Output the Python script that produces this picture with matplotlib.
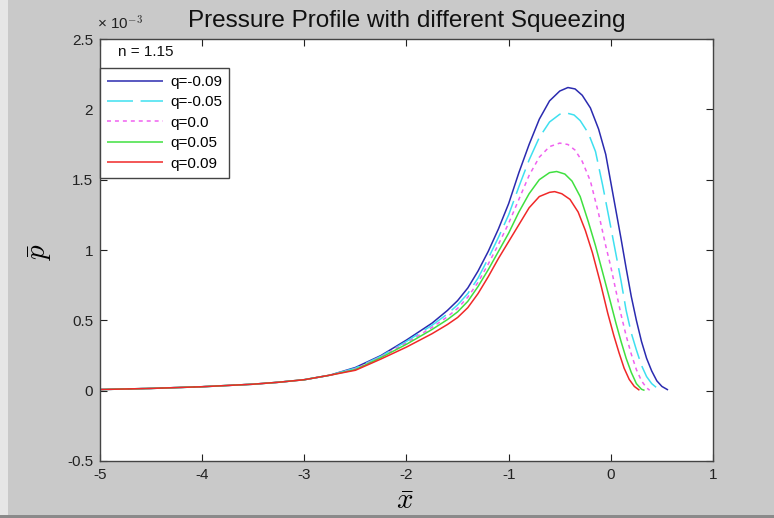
import matplotlib
matplotlib.use("Agg")
import matplotlib.pyplot as plt
from matplotlib.patches import Rectangle

# ---- data (pressure in units of 1e-3) ----
x_left = [-5.0, -4.5, -4.0, -3.5, -3.25, -3.0, -2.75]
p_left = [0.008, 0.016, 0.028, 0.046, 0.06, 0.078, 0.11]

x_q_m009 = [-2.5, -2.25, -2.0, -1.75, -1.6, -1.5, -1.4, -1.3, -1.2, -1.1, -1.0,
            -0.9, -0.8, -0.7, -0.6, -0.5, -0.42, -0.35, -0.28, -0.2, -0.12, -0.05,
            0.0, 0.05, 0.1, 0.15, 0.2, 0.25, 0.3, 0.35, 0.4, 0.45, 0.5, 0.56]
p_q_m009 = [0.165, 0.25, 0.36, 0.48, 0.57, 0.64, 0.73, 0.85, 0.99, 1.15, 1.33,
            1.55, 1.75, 1.93, 2.06, 2.13, 2.155, 2.145, 2.10, 2.01, 1.86, 1.68,
            1.48, 1.28, 1.08, 0.87, 0.67, 0.50, 0.35, 0.23, 0.14, 0.07, 0.03, 0.005]

x_q_m005 = [-2.5, -2.25, -2.0, -1.75, -1.6, -1.5, -1.4, -1.3, -1.2, -1.1, -1.0,
            -0.9, -0.8, -0.7, -0.6, -0.5, -0.44, -0.36, -0.3, -0.22, -0.15, -0.08,
            0.0, 0.05, 0.1, 0.15, 0.2, 0.25, 0.3, 0.35, 0.4, 0.45, 0.5]
p_q_m005 = [0.16, 0.245, 0.35, 0.465, 0.545, 0.61, 0.69, 0.80, 0.94, 1.09, 1.25,
            1.45, 1.64, 1.80, 1.91, 1.965, 1.975, 1.96, 1.92, 1.83, 1.70, 1.46,
            1.16, 0.97, 0.78, 0.57, 0.41, 0.29, 0.18, 0.10, 0.05, 0.02, 0.003]

x_q_000 = [-2.5, -2.25, -2.0, -1.75, -1.6, -1.5, -1.4, -1.3, -1.2, -1.1, -1.0,
           -0.9, -0.8, -0.7, -0.6, -0.5, -0.42, -0.35, -0.28, -0.2, -0.12, -0.05,
           0.0, 0.05, 0.1, 0.15, 0.2, 0.25, 0.3, 0.35, 0.38]
p_q_000 = [0.155, 0.24, 0.34, 0.45, 0.525, 0.585, 0.665, 0.77, 0.90, 1.04, 1.19,
           1.36, 1.53, 1.66, 1.735, 1.76, 1.75, 1.71, 1.63, 1.49, 1.26, 1.03,
           0.88, 0.71, 0.54, 0.39, 0.26, 0.15, 0.07, 0.02, 0.003]

x_q_005 = [-2.5, -2.25, -2.0, -1.75, -1.6, -1.5, -1.4, -1.3, -1.2, -1.1, -1.0,
           -0.9, -0.8, -0.7, -0.6, -0.53, -0.45, -0.38, -0.3, -0.22, -0.15, -0.08,
           0.0, 0.05, 0.1, 0.15, 0.2, 0.25, 0.3, 0.33]
p_q_005 = [0.15, 0.235, 0.33, 0.435, 0.505, 0.56, 0.635, 0.74, 0.86, 0.99, 1.12,
           1.27, 1.40, 1.50, 1.55, 1.558, 1.54, 1.49, 1.38, 1.20, 1.03, 0.84,
           0.62, 0.48, 0.35, 0.23, 0.13, 0.05, 0.01, 0.002]

x_q_009 = [-2.5, -2.25, -2.0, -1.75, -1.6, -1.5, -1.4, -1.3, -1.2, -1.1, -1.0,
           -0.9, -0.8, -0.7, -0.6, -0.55, -0.48, -0.4, -0.32, -0.25, -0.18, -0.1,
           -0.03, 0.03, 0.08, 0.13, 0.18, 0.23, 0.28]
p_q_009 = [0.145, 0.225, 0.31, 0.405, 0.47, 0.52, 0.59, 0.69, 0.81, 0.94, 1.06,
           1.18, 1.30, 1.38, 1.41, 1.415, 1.40, 1.36, 1.27, 1.14, 0.98, 0.76,
           0.55, 0.39, 0.27, 0.16, 0.08, 0.03, 0.003]

labels = ["q=-0.09", "q=-0.05", "q=0.0", "q=0.05", "q=0.09"]
colors = ["#2b2bb0", "#3ee0f0", "#f060f0", "#40e040", "#f02828"]
styles = [(0, ()), (0, (17, 5)), (0, (2.6, 2.6)), (0, ()), (0, ())]

xs = [x_q_m009, x_q_m005, x_q_000, x_q_005, x_q_009]
ps = [p_q_m009, p_q_m005, p_q_000, p_q_005, p_q_009]

xticks = [-5, -4, -3, -2, -1, 0, 1]
yticks = [-0.5, 0, 0.5, 1, 1.5, 2, 2.5]
ytick_labels = ["-0.5", "0", "0.5", "1", "1.5", "2", "2.5"]

# ---- figure ----
plt.rcParams["font.family"] = ["Liberation Sans", "DejaVu Sans"]
plt.rcParams["mathtext.fontset"] = "cm"

fig = plt.figure(figsize=(7.74, 5.18), dpi=100, facecolor="#c9c9c9")
W, H = 774, 518
ax = fig.add_axes([100 / W, 1 - 461 / H, 613 / W, 422 / H])
ax.set_facecolor("white")

for xv, pv, lab, c, ls in zip(xs, ps, labels, colors, styles):
    ax.plot(x_left + xv, p_left + pv, color=c, linestyle=ls, linewidth=1.1,
            label=lab, solid_joinstyle="round")

ax.set_xlim(-5, 1)
ax.set_ylim(-0.5, 2.5)
ax.set_xticks(xticks)
ax.set_xticklabels([str(t) for t in xticks])
ax.set_yticks(yticks)
ax.set_yticklabels(ytick_labels)
ax.tick_params(direction="in", length=5, width=0.8, top=True, right=True,
               labelsize=11, colors="#222222")
ax.tick_params(axis="y", pad=5)
ax.tick_params(axis="x", pad=5)
for s in ax.spines.values():
    s.set_color("#444444")
    s.set_linewidth(1.0)

ax.set_title("Pressure Profile with different Squeezing", fontsize=17.5, pad=9,
             color="#111111")
fig.text(97 / W, 1 - 30 / H, r"× 10$^{-3}$", fontsize=11, ha="left", va="baseline",
         color="#222222", family=["Liberation Sans", "DejaVu Sans"])

ax.text(0.029, 0.969, "n = 1.15", transform=ax.transAxes, fontsize=11,
        ha="left", va="center", color="#111111")

leg = ax.legend(loc="upper left", bbox_to_anchor=(0.0, 0.931), borderaxespad=0,
                fontsize=11, handlelength=3.7, handletextpad=0.45, fancybox=False,
                framealpha=1, edgecolor="#444444", borderpad=0.45, labelspacing=0.42)
leg.get_frame().set_linewidth(1.0)

fig.text(405 / W, 1 - 501 / H, r"$\bar{x}$", fontsize=21, ha="center", va="center")
fig.text(40 / W, 1 - 252 / H, r"$\bar{p}$", fontsize=21, ha="center", va="center",
         rotation=90)

# screenshot edges
fig.patches.append(Rectangle((0, 0), 8 / W, 1, transform=fig.transFigure,
                             facecolor="#e6e6e6", edgecolor="none", zorder=-1))
fig.patches.append(Rectangle((0, 0), 1, 3 / H, transform=fig.transFigure,
                             facecolor="#8a8a8a", edgecolor="none", zorder=-1))

fig.savefig("out.png", dpi=100, facecolor=fig.get_facecolor())
